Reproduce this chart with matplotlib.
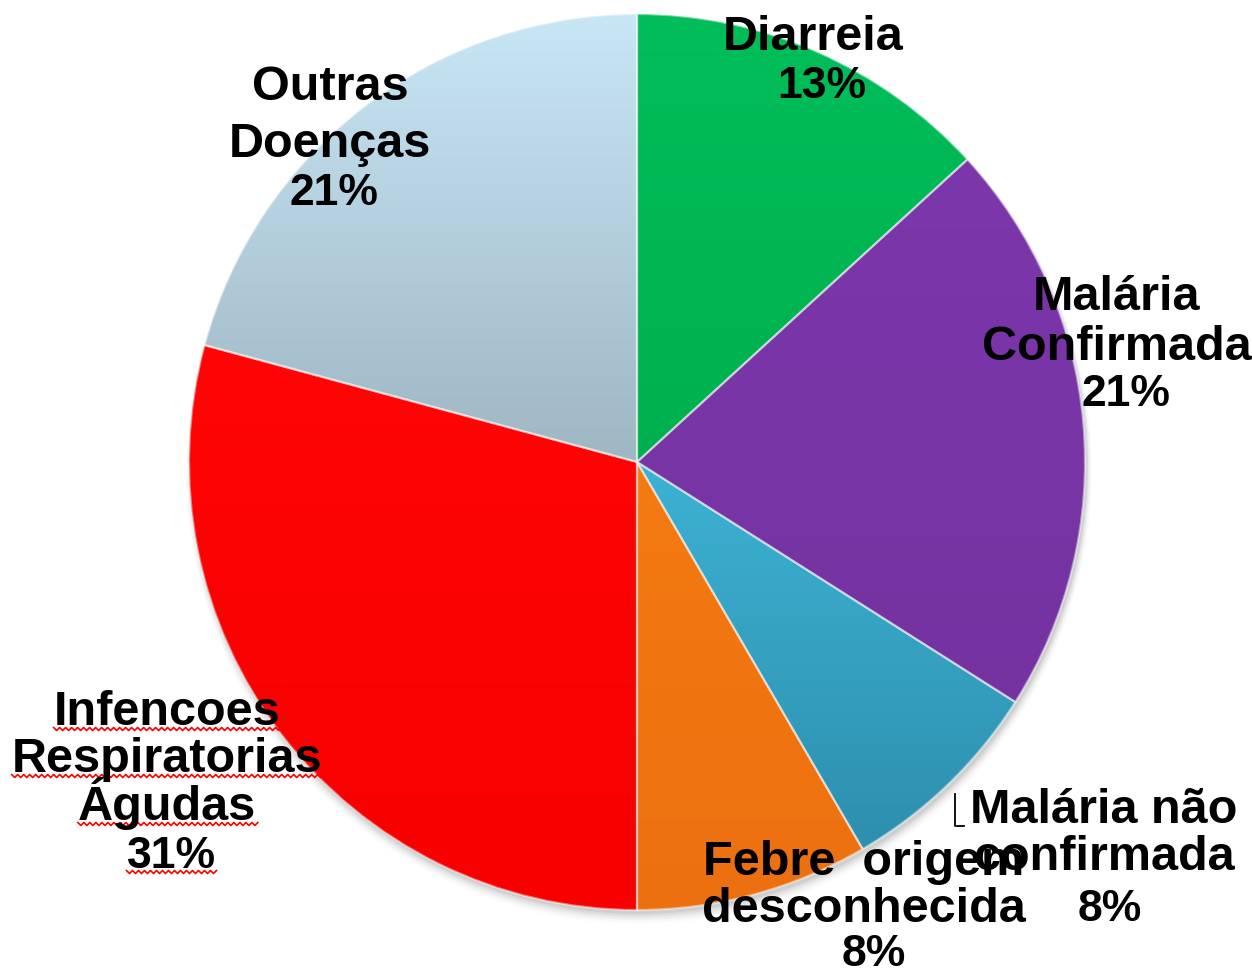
import numpy as np
import matplotlib
matplotlib.use('Agg')
import matplotlib.pyplot as plt

# ---------------- data ----------------
categories = ['Diarreia', 'Malária Confirmada', 'Malária não confirmada',
              'Febre origem desconhecida', 'Infencoes Respiratorias Agudas',
              'Outras Doenças']
shares = [13.2, 20.8, 7.6, 8.4, 29.2, 20.8]          # slice sizes
pct_labels = ['13%', '21%', '8%', '8%', '31%', '21%']  # printed labels
top_colors = ['#00BE5A', '#7C37AB', '#3DB2D3', '#F47A12', '#FF0505', '#C8E6F5']
bottom_colors = ['#00B04E', '#7433A1', '#2E8FAE', '#EC7010', '#F80000', '#9FB6C3']

# label lines: (text lines, center x px, baselines y px from top, pct x, pct baseline)
label_layout = [
    (['Diarreia'], 813, [50], 822, 98),
    (['Malária', 'Confirmada'], 1117, [310, 360], 1126, 406),
    (['Malária não', 'confirmada'], 1104, [823, 870], 1110, 921),
    (['Febre  origem', 'desconhecida'], 864, [875, 922], 874, 966),
    (['Infencoes', 'Respiratorias', 'Águdas'], 167, [725, 772, 820], 171, 868),
    (['Outras', 'Doenças'], 330, [100, 157], 334, 205),
]
underlined = [4]

W, H = 1252, 973
fig = plt.figure(figsize=(W / 100, H / 100), dpi=100)
ax = fig.add_axes([0, 0, 1, 1])

cx, cy, R = 637, H - 462, 448
wedges, _ = ax.pie(shares, startangle=90, counterclock=False,
                   center=(cx, cy), radius=R, frame=True)
ax.set_xlim(0, W)
ax.set_ylim(0, H)
ax.axis('off')

# soft shadow under the pie
for i, a in enumerate(np.linspace(0.05, 0.01, 6)):
    sh = plt.Circle((cx + 2, cy - 4 - i), R + i, color='black', alpha=a, zorder=0, lw=0)
    ax.add_patch(sh)

def hex2rgb(h):
    h = h.lstrip('#')
    return np.array([int(h[i:i + 2], 16) / 255 for i in (0, 2, 4)])

for w, tc, bc in zip(wedges, top_colors, bottom_colors):
    verts = w.get_patch_transform().transform(w.get_path().vertices)
    x0, y0 = verts.min(axis=0)
    x1, y1 = verts.max(axis=0)
    t = np.linspace(0, 1, 256)[:, None]
    grad = (1 - t) * hex2rgb(tc) + t * hex2rgb(bc)
    img = grad[:, None, :]
    im = ax.imshow(img, extent=[x0, x1, y0, y1], origin='upper',
                   aspect='auto', zorder=1, interpolation='bilinear')
    im.set_clip_path(w)
    w.set_facecolor('none')
    w.set_edgecolor((1, 1, 1, 0.45))
    w.set_linewidth(1.6)
    w.set_zorder(2)

# ---------------- labels ----------------
names_font = dict(family=['Liberation Sans', 'DejaVu Sans'], fontweight='bold', fontsize=35)
pct_font = dict(family=['Liberation Sans', 'DejaVu Sans'], fontweight='bold', fontsize=32)

texts_to_underline = []
for i, ((lines, xc, baselines, px, pb), pct) in enumerate(zip(label_layout, pct_labels)):
    for s, b in zip(lines, baselines):
        tx = ax.text(xc, H - b, s, ha='center', va='baseline', zorder=5, **names_font)
        if i in underlined:
            texts_to_underline.append((tx, H - b))
    tp = ax.text(px, H - pb, pct, ha='center', va='baseline', zorder=5, **pct_font)
    if i in underlined:
        texts_to_underline.append((tp, H - pb))

# small leader mark near "Malária não"
ax.plot([955, 955, 964], [H - 794, H - 826, H - 826], color='black', lw=1.3, zorder=5)

# red spell-check wavy underlines
fig.canvas.draw()
renderer = fig.canvas.get_renderer()
inv = ax.transData.inverted()
for tx, base in texts_to_underline:
    bb = tx.get_window_extent(renderer)
    (xa, _), (xb, _) = inv.transform([[bb.x0, bb.y0], [bb.x1, bb.y1]])
    xs = np.arange(xa, xb + 3, 3)
    ys = base - 4 + np.where(np.arange(len(xs)) % 2 == 0, 1.5, -1.5)
    ax.plot(xs, ys, color='red', lw=1.2, zorder=4)

fig.savefig('out.png', dpi=100)
